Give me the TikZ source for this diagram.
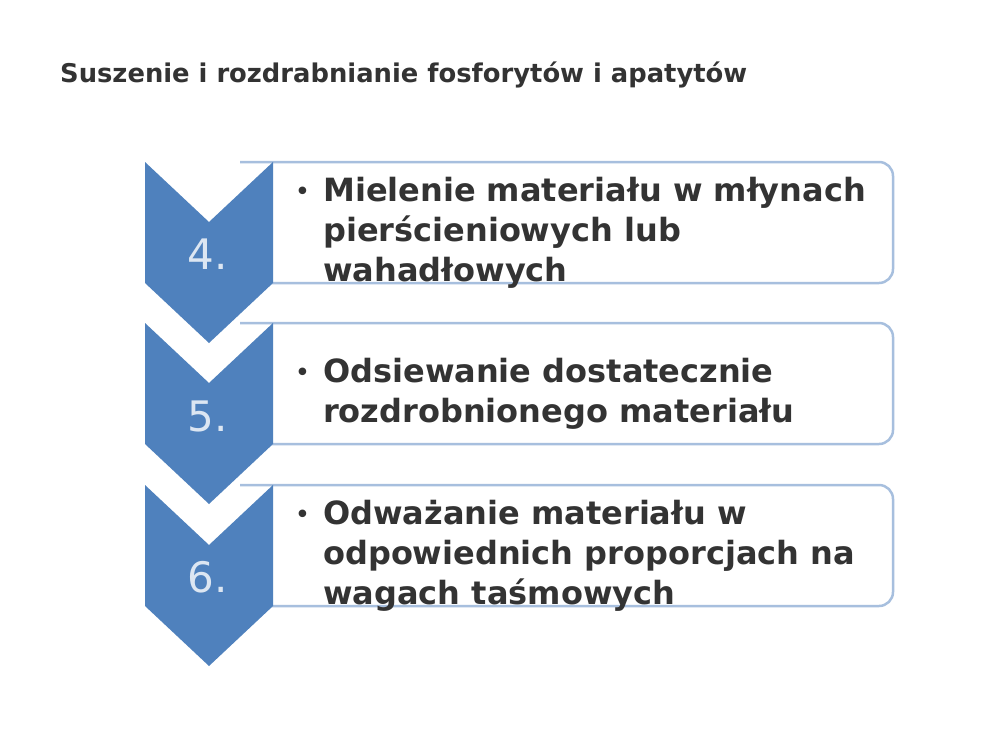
\documentclass[tikz,border=0pt]{standalone}
\usepackage{fontspec}
\setmainfont{DejaVu Sans}
\setsansfont{DejaVu Sans}
\usetikzlibrary{positioning}

\definecolor{chevblue}{HTML}{4F81BD}
\definecolor{boxline}{HTML}{A7BFDE}
\definecolor{numtext}{HTML}{DCE6F2}
\definecolor{itemgray}{HTML}{333333}

\tikzset{
  chevron/.style = {fill=chevblue, draw=none},
  stepframe/.style = {draw=boxline, line width=2.5pt, fill=white, rounded corners=14pt},
  stepnum/.style = {text=numtext, font=\fontsize{42}{42}\selectfont, inner sep=0pt},
  itemtext/.style = {text=itemgray, font=\bfseries\fontsize{32}{40}\selectfont,
                     align=left, inner sep=0pt, anchor=west},
  heading/.style = {text=itemgray, font=\bfseries\fontsize{25.8}{28}\selectfont,
                    inner sep=0pt, anchor=west}
}

\newcommand{\bulletmark}{\makebox[0pt][r]{\raisebox{1.5pt}{\mdseries\fontsize{26}{26}\selectfont\textbullet}\hspace{13pt}}}

\begin{document}
\begin{tikzpicture}[x=1pt, y=-1pt]
  \useasboundingbox (0,0) rectangle (1000,750);

  \node[heading] (title) at (60,75) {Suszenie i rozdrabnianie fosforytów i apatytów};

  % frames (right corners rounded only)
  \draw[stepframe] (240,162) -- (893,162) -- (893,283) -- (240,283);
  \draw[stepframe] (240,323) -- (893,323) -- (893,444) -- (240,444);
  \draw[stepframe] (240,485) -- (893,485) -- (893,606) -- (240,606);

  % chevrons
  \fill[chevron] (145,162) -- (209,222) -- (273,162) -- (273,283) -- (209,343) -- (145,283) -- cycle;
  \fill[chevron] (145,323) -- (209,383) -- (273,323) -- (273,444) -- (209,504) -- (145,444) -- cycle;
  \fill[chevron] (145,485) -- (209,545) -- (273,485) -- (273,606) -- (209,666) -- (145,606) -- cycle;

  \node[stepnum] (n4) at (208,254) {4.};
  \node[stepnum] (n5) at (208,416) {5.};
  \node[stepnum] (n6) at (208,577) {6.};

  \node[itemtext] (t4) at (323,233) {\bulletmark Mielenie materiału w młynach\\pierścieniowych lub\\wahadłowych};
  \node[itemtext] (t5) at (323,394) {\bulletmark Odsiewanie dostatecznie\\rozdrobnionego materiału};
  \node[itemtext] (t6) at (323,556) {\bulletmark Odważanie materiału w\\odpowiednich proporcjach na\\wagach taśmowych};
\end{tikzpicture}
\end{document}
